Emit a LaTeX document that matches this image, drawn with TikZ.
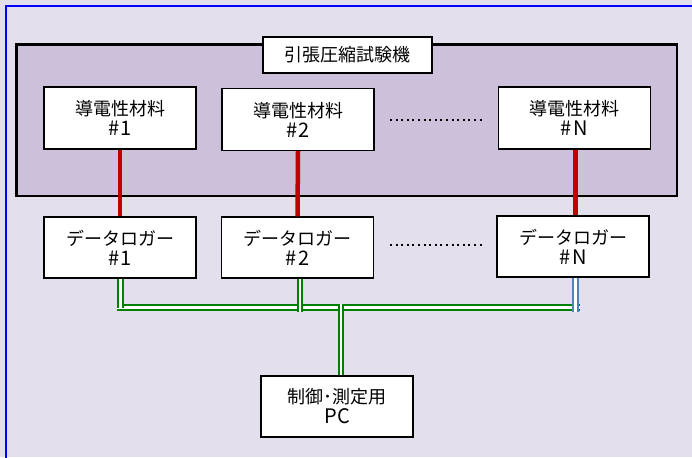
\documentclass[tikz,border=0pt]{standalone}
\usepackage{fontspec}
\setmainfont{Noto Sans CJK JP}
\definecolor{bgout}{HTML}{E4DFEC}
\definecolor{bgin}{HTML}{CCC0DA}
\definecolor{redln}{HTML}{C00000}
\definecolor{grnln}{HTML}{008000}
\definecolor{bluln}{HTML}{4F81BD}
\newcommand{\lat}[1]{{\fontsize{20}{20}\selectfont #1}}
\tikzset{
  box/.style={draw=black, line width=1.4pt, fill=white, minimum width=152pt, minimum height=61pt, align=center, inner sep=0pt, font=\fontsize{18}{20}\selectfont},
  redlink/.style={draw=redln, line width=4.5pt},
  buslink/.style={draw=grnln, line width=2pt, double=white, double distance=2.5pt},
  bluelink/.style={draw=bluln, line width=2pt, double=white, double distance=2.5pt},
  dots/.style={line width=2pt, dash pattern=on 2pt off 3.6pt},
}
\begin{document}
\begin{tikzpicture}[x=1pt,y=-1pt]
\useasboundingbox (0,0) rectangle (692,457);
\fill[bgout] (0,0) rectangle (692,457);
\draw[blue, line width=1.5pt] (6,470) -- (6,6) -- (700,6);
\draw[black, line width=2.5pt, fill=bgin] (16.5,44.5) rectangle (677,196);
\node[box, minimum width=169pt, minimum height=36pt] (title) at (347.5,55) {引張圧縮試験機};
\node[box, minimum height=62pt] (m1) at (120,118) {導電性材料\\[0pt]\lat{\#\kern1.5pt1}};
\node[box, minimum height=62pt] (m2) at (298,119.5) {導電性材料\\[0pt]\lat{\#\kern1.5pt2}};
\node[box, minimum height=62pt] (mN) at (574.5,118) {導電性材料\\[0pt]\lat{\#\kern1.5ptN}};
\node[box] (l1) at (120,247.5) {データロガー\\[0pt]\lat{\#\kern1.5pt1}};
\node[box] (l2) at (297.5,247.5) {データロガー\\[0pt]\lat{\#\kern1.5pt2}};
\node[box] (lN) at (573,246.5) {データロガー\\[0pt]\lat{\#\kern1.5ptN}};
\node[box] (pc) at (337,406.5) {制御･測定用\\[0pt]\lat{P\kern0.5ptC}};
\draw[redlink] (m1.south) -- (l1.north);
\draw[redlink] (m2.south) -- (l2.north);
\draw[redlink] ([xshift=1pt]mN.south) -- ([xshift=1pt]mN.south |- lN.north);
\coordinate (dA1) at (390,120);
\coordinate (dA2) at (485,120);
\coordinate (dB1) at (390,245);
\coordinate (dB2) at (485,245);
\draw[dots] (dA1) -- (dA2);
\draw[dots] (dB1) -- (dB2);
\coordinate (busL) at (117,307.5);
\coordinate (busR) at (580,307.5);
\draw[buslink] (busL) -- (busR);
\draw[buslink] ([xshift=0.5pt]l1.south) -- ([xshift=0.5pt]l1.south |- busL) ++(0,3.5);
\draw[buslink] ([xshift=2.5pt]l2.south) -- ++(0,33.5);
\draw[bluelink] ([xshift=2.5pt]lN.south) -- ++(0,34);
\draw[buslink] ([xshift=4pt]pc.north) -- ([xshift=4pt]pc.north |- busL) -- ++(0,-3.5);
\end{tikzpicture}
\end{document}
